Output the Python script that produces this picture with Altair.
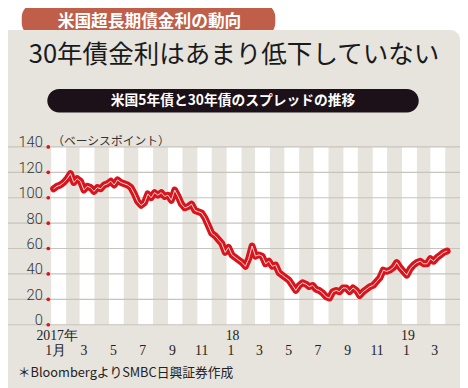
import altair as alt
import pandas as pd

# ---- data (weekly spread, basis points) ----
spread_bp = [107, 109, 110, 112, 115, 119, 112, 115, 113, 106,
             109, 108, 105, 108, 107, 110, 111, 113, 110, 114,
             112, 111, 110, 108, 103, 97, 94, 96, 103, 100,
             104, 102, 104, 101, 102, 98, 106, 101, 95, 92,
             93, 95, 90, 89, 88, 84, 78, 72, 70, 67,
             64, 57, 61, 55, 53, 51, 49, 46, 52, 62,
             54, 55, 54, 48, 50, 46, 47, 41, 39, 37,
             35, 31, 27, 31, 33, 32, 30, 31, 28, 27,
             25, 22, 21, 26, 27, 26, 29, 29, 26, 29,
             27, 23, 26, 28, 30, 31, 34, 37, 43, 42,
             43, 45, 49, 45, 42, 39, 44, 47, 49, 50,
             48, 48, 52, 50, 53, 55, 57, 58]
first_week = "2017-01-06"
y_ticks = [0, 20, 40, 60, 80, 100, 120, 140]
year_labels = ["2017年", "18", "19"]
year_label_dates = ["2017-01-01", "2018-01-01", "2019-01-01"]

tab_text = "米国超長期債金利の動向"
title_text = "30年債金利はあまり低下していない"
subtitle_text = "米国5年債と30年債のスプレッドの推移"
unit_text = "（ベーシスポイント）"
source_text = "＊BloombergよりSMBC日興証券作成"

# ---- tables ----
dates = pd.date_range(first_week, periods=len(spread_bp), freq="7D")
df = pd.DataFrame({"date": dates.strftime("%Y-%m-%d"), "v": spread_bp})
months = pd.date_range("2017-01-01", "2019-04-01", freq="MS")
stripes = pd.DataFrame({
    "start": months[:-1].strftime("%Y-%m-%d"),
    "end": months[1:].strftime("%Y-%m-%d"),
})
stripes = stripes.iloc[::2].reset_index(drop=True)
grid_df = pd.DataFrame({"v": y_ticks})
years_df = pd.DataFrame({"d": year_label_dates, "t": year_labels})
tick_dates = [alt.DateTime(year=d.year, month=d.month, date=1, utc=True)
              for d in months[:-1][::2]]

# ---- styles ----
W, H = 401, 181
BEIGE = "#e7e3dd"
RED = "#d8141c"
GRID = "#c8c3bd"
JP = "Noto Sans CJK JP"

xscale = alt.Scale(type="utc", domain=[
    alt.DateTime(year=2017, month=1, date=1, utc=True),
    alt.DateTime(year=2019, month=4, date=1, utc=True)])
xaxis = alt.Axis(values=tick_dates, title=None, ticks=False, domain=False, grid=False, zindex=2,
                 labelExpr="(utcyear(datum.value) == 2017 && utcmonth(datum.value) == 0) ? '1月' : '' + (utcmonth(datum.value) + 1)",
                 labelFont="Liberation Sans Narrow", labelFontSize=14, labelColor="#222",
                 labelPadding=19, labelBaseline="top", labelOffset=4, labelFlush=False)
yscale = alt.Scale(domain=[0, 140], nice=False)
yaxis = alt.Axis(values=y_ticks, title=None, ticks=False, domain=False, grid=False, zindex=2,
                 labelFont="Roboto", labelFontSize=15, labelColor="#333",
                 labelPadding=9, labelBaseline="alphabetic", labelFontWeight=300)

one = pd.DataFrame({"t": [""]})


def txt(s, x, y, size, color="#111", weight="normal", align="center", font=JP, baseline="middle"):
    return alt.Chart(pd.DataFrame({"t": [s]})).mark_text(
        font=font, fontSize=size, fontWeight=weight, color=color, align=align, baseline=baseline
    ).encode(text="t:N", x=alt.value(x), y=alt.value(y))


def box(x, x2, y, y2, color, radius):
    return alt.Chart(one).mark_rect(color=color, cornerRadius=radius).encode(
        x=alt.value(x), x2=alt.value(x2), y=alt.value(y), y2=alt.value(y2))


tab = box(-30, 228, -146, -112, "#bf5f4a", 14)
panel = box(-60, 416, -119, 262, BEIGE, 10)
tab_t = txt(tab_text, 100, -127, 17, color="white", weight="bold")
title = txt(title_text, 186, -93, 26, color="#1a1a1a")
pill = box(-4, 374, -59, -35, "#1c1119", 12)
pill_t = txt(subtitle_text, 185, -47, 14, color="white", weight="bold")
unit_t = txt(unit_text, 1, -6, 12, color="#333", align="left")
source_t = txt(source_text, -34, 230, 13, color="#222", align="left")

stripe_layer = alt.Chart(stripes).mark_rect(color="white").encode(
    x=alt.X("start:T", scale=xscale, axis=xaxis),
    x2="end:T",
    y=alt.value(0), y2=alt.value(H))

grid_layer = alt.Chart(grid_df).mark_rule(color=GRID, strokeWidth=1.2).encode(
    y=alt.Y("v:Q", scale=yscale, axis=yaxis),
    x=alt.value(-60), x2=alt.value(420))

dots = alt.Chart(grid_df).mark_circle(color=RED, size=14, opacity=1).encode(
    y=alt.Y("v:Q", scale=yscale, axis=yaxis), x=alt.value(-3))

line_red = alt.Chart(df).mark_line(color=RED, strokeWidth=7, strokeJoin="round", strokeCap="round").encode(
    x=alt.X("date:T", scale=xscale, axis=xaxis),
    y=alt.Y("v:Q", scale=yscale, axis=yaxis))
line_white = alt.Chart(df).mark_line(color="white", strokeWidth=1, opacity=0.85).encode(
    x=alt.X("date:T", scale=xscale, axis=xaxis),
    y=alt.Y("v:Q", scale=yscale, axis=yaxis))

years = alt.Chart(years_df).mark_text(
    font="Liberation Sans Narrow", fontSize=14, color="#222", baseline="middle", dx=6
).encode(x=alt.X("d:T", scale=xscale, axis=xaxis), y=alt.value(H + 12), text="t:N")

chart = alt.layer(
    tab, panel, tab_t, title, pill, pill_t, unit_t,
    stripe_layer, grid_layer, dots, line_red, line_white, years, source_t
).properties(
    width=W, height=H,
    autosize=alt.AutoSizeParams(type="none"),
    padding={"left": 44, "top": 138, "right": 15, "bottom": 61},
    background="white",
).configure_view(stroke=None)

chart.save("out.html", embed_options={"renderer": "svg", "actions": False})
